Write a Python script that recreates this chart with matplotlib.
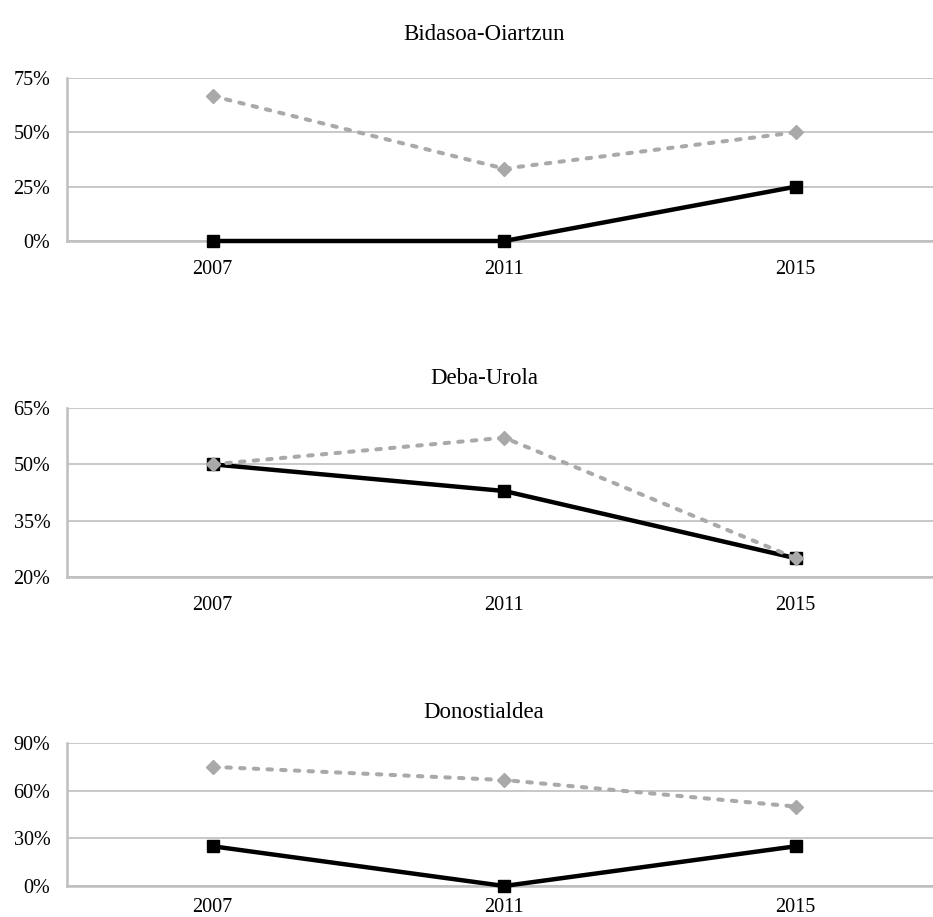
import numpy as np
import matplotlib.pyplot as plt
from matplotlib.ticker import PercentFormatter

years = ['2007', '2011', '2015']

titles = ['Bidasoa-Oiartzun', 'Deba-Urola', 'Donostialdea']

# share per election, two series per district
black_vals = [[0.0, 0.0, 25.0],
              [50.0, 42.9, 25.0],
              [25.0, 0.0, 25.0]]
gray_vals = [[66.7, 33.3, 50.0],
             [50.0, 57.1, 25.0],
             [75.0, 66.7, 50.0]]

yticks = [[0, 25, 50, 75],
          [20, 35, 50, 65],
          [0, 30, 60, 90]]

plt.rcParams['font.family'] = ['Liberation Serif', 'DejaVu Serif']

W, H = 933, 917
fig = plt.figure(figsize=(W / 100, H / 100), dpi=100, facecolor='w')

# pixel boxes: (top, bottom) of each plot area, title centre y, x label pad
boxes = [(78, 241, 35, 14), (408, 577, 378, 14), (743, 886, 713, 9)]
left_px = 67
width_px = 874.5

grid_c = '#BFBFBF'
x = np.arange(len(years))

for i in range(3):
    top, bot, ty, xpad = boxes[i]
    ax = fig.add_axes([left_px / W, 1 - bot / H, width_px / W, (bot - top) / H])
    ax.plot(x, black_vals[i], color='black', lw=3.2, marker='s',
            markersize=9, solid_joinstyle='miter', zorder=3, clip_on=False)
    ax.plot(x, gray_vals[i], color='#A9A9A9', lw=2.9, marker='D',
            markersize=7.5, dashes=(1.1, 2.3), dash_capstyle='round',
            zorder=4, clip_on=False)
    ax.set_xlim(-0.5, 2.5)
    ax.set_ylim(yticks[i][0], yticks[i][-1])
    ax.set_yticks(yticks[i])
    ax.yaxis.set_major_formatter(PercentFormatter(decimals=0))
    ax.set_xticks(x)
    ax.set_xticklabels(years)
    ax.grid(axis='y', color=grid_c, lw=1.2)
    ax.set_axisbelow(True)
    for s in ['top', 'right']:
        ax.spines[s].set_visible(False)
    for s in ['left', 'bottom']:
        ax.spines[s].set_color(grid_c)
        ax.spines[s].set_linewidth(1.8)
    ax.tick_params(length=0, labelsize=14.5, colors='black')
    ax.tick_params(axis='y', pad=12)
    ax.tick_params(axis='x', pad=xpad)
    fig.text(484 / W, 1 - ty / H, titles[i], ha='center', va='center',
             fontsize=16.5)

fig.savefig('out.png', dpi=100)
